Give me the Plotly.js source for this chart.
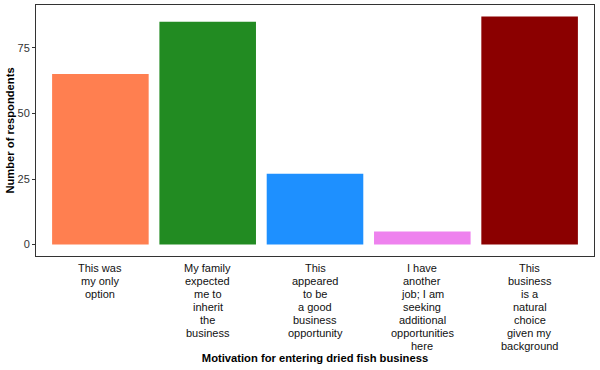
<!DOCTYPE html>
<html>
<head>
<meta charset="utf-8">
<script src="https://cdn.plot.ly/plotly-3.0.1.min.js"></script>
<style>html,body{margin:0;padding:0;background:#fff;}#chart{width:600px;height:370px;}</style>
</head>
<body>
<div id="chart"></div>
<script>
// Data
const categories = [
  "This was my only option",
  "My family expected me to inherit the business",
  "This appeared to be a good business opportunity",
  "I have another job; I am seeking additional opportunities here",
  "This business is a natural choice given my background"
];
const tickLabelLines = [
  ["This was", "my only", "option"],
  ["My family", "expected", "me to", "inherit", "the", "business"],
  ["This", "appeared", "to be", "a good", "business", "opportunity"],
  ["I have", "another", "job; I am", "seeking", "additional", "opportunities", "here"],
  ["This", "business", "is a", "natural", "choice", "given my", "background"]
];
const respondents = [65, 85, 27, 5, 87];
const barColors = ["#FF7F50", "#228B22", "#1E90FF", "#EE82EE", "#8B0000"];
const yTickVals = [0, 25, 50, 75];
const xTitle = "Motivation for entering dried fish business";
const yTitle = "Number of respondents";

const font = "Arial, 'Liberation Sans', sans-serif";

const trace = {
  type: "bar",
  x: categories,
  y: respondents,
  width: 0.9,
  marker: {color: barColors, line: {width: 0}},
  hoverinfo: "x+y"
};

const annotations = [];
tickLabelLines.forEach((lines, i) => {
  lines.forEach((ln, j) => {
    annotations.push({
      xref: "x", yref: "paper", x: categories[i], y: 0,
      text: ln, showarrow: false, xanchor: "center", yanchor: "middle",
      yshift: -(11.5 + j * 13),
      font: {family: font, size: 11, color: "#111111"}
    });
  });
});

const layout = {
  width: 600, height: 370,
  margin: {l: 36, r: 6, t: 5, b: 114},
  paper_bgcolor: "#ffffff", plot_bgcolor: "#ffffff",
  showlegend: false,
  bargap: 0.1,
  xaxis: {
    type: "category",
    range: [-0.6, 4.6],
    showticklabels: false,
    ticks: "",
    showgrid: false, zeroline: false,
    showline: true, mirror: true, linecolor: "#333333", linewidth: 1,
    title: {text: "<b>" + xTitle + "</b>", font: {family: font, size: 11.2, color: "#000"}, standoff: 98},
    automargin: false
  },
  yaxis: {
    range: [-4.35, 91.35],
    tickvals: yTickVals,
    ticks: "outside", ticklen: 3, tickwidth: 1, tickcolor: "#333333",
    tickfont: {family: font, size: 11, color: "#333333"},
    showgrid: false, zeroline: false,
    showline: true, mirror: true, linecolor: "#333333", linewidth: 1,
    title: {text: "<b>" + yTitle + "</b>", font: {family: font, size: 11.2, color: "#000"}, standoff: 0},
    automargin: true
  },
  annotations: annotations
};

Plotly.newPlot("chart", [trace], layout, {displayModeBar: false, staticPlot: true});
</script>
</body>
</html>
